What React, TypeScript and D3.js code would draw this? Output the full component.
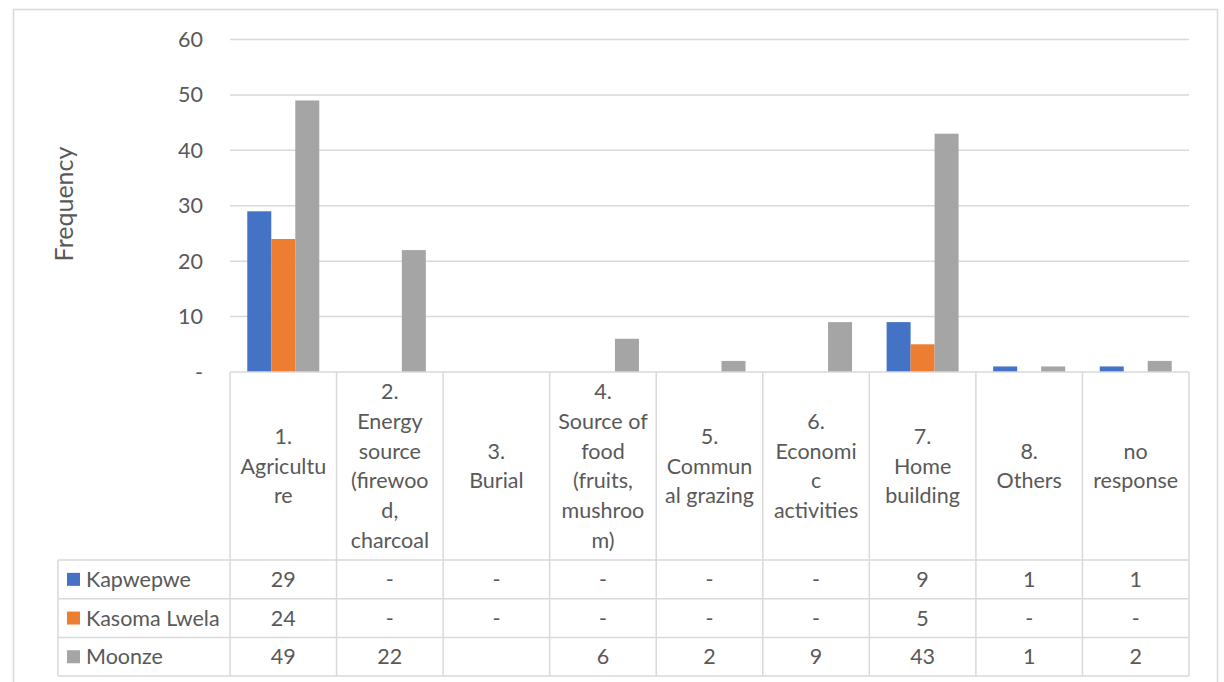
import React, { useEffect, useRef } from "react"
import * as d3 from "d3"

const categories = [
  ["1.", "Agricultu", "re"],
  ["2.", "Energy", "source", "(firewoo", "d,", "charcoal"],
  ["3.", "Burial"],
  ["4.", "Source of", "food", "(fruits,", "mushroo", "m)"],
  ["5.", "Commun", "al grazing"],
  ["6.", "Economi", "c", "activities"],
  ["7.", "Home", "building"],
  ["8.", "Others"],
  ["no", "response"],
]
const seriesNames = ["Kapwepwe", "Kasoma Lwela", "Moonze"]
const kapwepwe = [29, null, null, null, null, null, 9, 1, 1]
const kasomaLwela = [24, null, null, null, null, null, 5, null, null]
const moonze = [49, 22, null, 6, 2, 9, 43, 1, 2]
// how the table shows each empty cell ("-" or blank)
const kapwepweEmpty = ["-", "-", "-", "-", "-", "-", "-", "-", "-"]
const kasomaEmpty = ["-", "-", "-", "-", "-", "-", "-", "-", "-"]
const moonzeEmpty = ["", "", "", "", "", "", "", "", ""]
const yTicks = [0, 10, 20, 30, 40, 50, 60]
const colors = ["#4472C4", "#ED7D31", "#A5A5A5"]

export default function App() {
  const ref = useRef<SVGSVGElement>(null)

  useEffect(() => {
    const W = 1224
    const H = 682
    const svg = d3.select(ref.current)
    svg.selectAll("*").remove()
    svg.attr("width", W).attr("height", H)

    const font = "Lato, 'Open Sans', sans-serif"
    const fs = 21.5
    const textColor = "#595959"
    const lineColor = "#d9d9d9"

    // chart border
    svg.append("rect")
      .attr("x", 13.5).attr("y", 9.5)
      .attr("width", 1204).attr("height", 690)
      .attr("fill", "#fff").attr("stroke", lineColor).attr("stroke-width", 1.5)

    const left = 230
    const right = 1189
    const top = 39.5
    const base = 372

    const x = d3.scaleBand<number>()
      .domain(d3.range(categories.length))
      .range([left, right])
    const y = d3.scaleLinear().domain([0, 60]).range([base, top])
    const inner = d3.scaleBand<number>()
      .domain(d3.range(3))
      .range([0, x.bandwidth()])
      .paddingOuter(0.72)
      .paddingInner(0)

    // gridlines
    svg.append("g").selectAll("line")
      .data(yTicks.filter(t => t > 0))
      .enter().append("line")
      .attr("x1", left).attr("x2", right)
      .attr("y1", d => y(d)).attr("y2", d => y(d))
      .attr("stroke", lineColor).attr("stroke-width", 1.5)

    // y tick labels
    svg.append("g").selectAll("text")
      .data(yTicks)
      .enter().append("text")
      .attr("x", 203).attr("y", d => y(d))
      .attr("dy", "0.35em")
      .attr("text-anchor", "end")
      .attr("font-family", font).attr("font-size", fs)
      .attr("fill", textColor)
      .text(d => (d === 0 ? "-" : String(d)))

    // axis title
    svg.append("text")
      .attr("transform", `translate(73, 204) rotate(-90)`)
      .attr("text-anchor", "middle")
      .attr("font-family", font).attr("font-size", 25)
      .attr("fill", textColor)
      .text("Frequency")

    // bars
    const series = [kapwepwe, kasomaLwela, moonze]
    series.forEach((vals, si) => {
      svg.append("g").selectAll("rect")
        .data(vals.map((v, i) => ({ v, i })).filter(d => d.v != null))
        .enter().append("rect")
        .attr("x", d => (x(d.i) as number) + (inner(si) as number))
        .attr("width", inner.bandwidth())
        .attr("y", d => y(d.v as number))
        .attr("height", d => base - y(d.v as number))
        .attr("fill", colors[si])
    })

    // data table
    const headerBottom = 560
    const rowH = 38.7
    const legendLeft = 58
    const tableBottom = headerBottom + rowH * 3
    const grid = svg.append("g").attr("stroke", lineColor).attr("stroke-width", 1.5)

    // vertical lines
    d3.range(categories.length + 1).forEach(i => {
      const xx = i < categories.length ? (x(i) as number) : right
      grid.append("line")
        .attr("x1", xx).attr("x2", xx)
        .attr("y1", base).attr("y2", tableBottom)
    })
    grid.append("line")
      .attr("x1", legendLeft).attr("x2", legendLeft)
      .attr("y1", headerBottom).attr("y2", tableBottom)
    // horizontal lines
    grid.append("line").attr("x1", left).attr("x2", right).attr("y1", base).attr("y2", base)
    d3.range(4).forEach(r => {
      const yy = headerBottom + r * rowH
      grid.append("line").attr("x1", legendLeft).attr("x2", right).attr("y1", yy).attr("y2", yy)
    })

    // header labels
    const lineH = 29.8
    const headerMid = (base + headerBottom) / 2
    categories.forEach((lines, i) => {
      const cx = (x(i) as number) + x.bandwidth() / 2
      const t = svg.append("text")
        .attr("text-anchor", "middle")
        .attr("font-family", font).attr("font-size", fs)
        .attr("fill", textColor)
      lines.forEach((ln, li) => {
        t.append("tspan")
          .attr("x", cx)
          .attr("y", headerMid + (li - (lines.length - 1) / 2) * lineH)
          .attr("dy", "0.35em")
          .text(ln)
      })
    })

    // rows
    const empties = [kapwepweEmpty, kasomaEmpty, moonzeEmpty]
    series.forEach((vals, si) => {
      const cy = headerBottom + rowH * si + rowH / 2
      svg.append("rect")
        .attr("x", 67).attr("y", cy - 6.5)
        .attr("width", 13).attr("height", 13)
        .attr("fill", colors[si])
      svg.append("text")
        .attr("x", 86).attr("y", cy).attr("dy", "0.35em")
        .attr("font-family", font).attr("font-size", fs)
        .attr("fill", textColor)
        .text(seriesNames[si])
      svg.append("g").selectAll("text")
        .data(vals.map((v, i) => ({ v, i })))
        .enter().append("text")
        .attr("x", d => (x(d.i) as number) + x.bandwidth() / 2)
        .attr("y", cy).attr("dy", "0.35em")
        .attr("text-anchor", "middle")
        .attr("font-family", font).attr("font-size", fs)
        .attr("fill", textColor)
        .text(d => (d.v == null ? empties[si][d.i] : String(d.v)))
    })
  }, [])

  return (
    <svg ref={ref} style={{ position: "absolute", left: 0, top: 0, display: "block" }} />
  )
}
